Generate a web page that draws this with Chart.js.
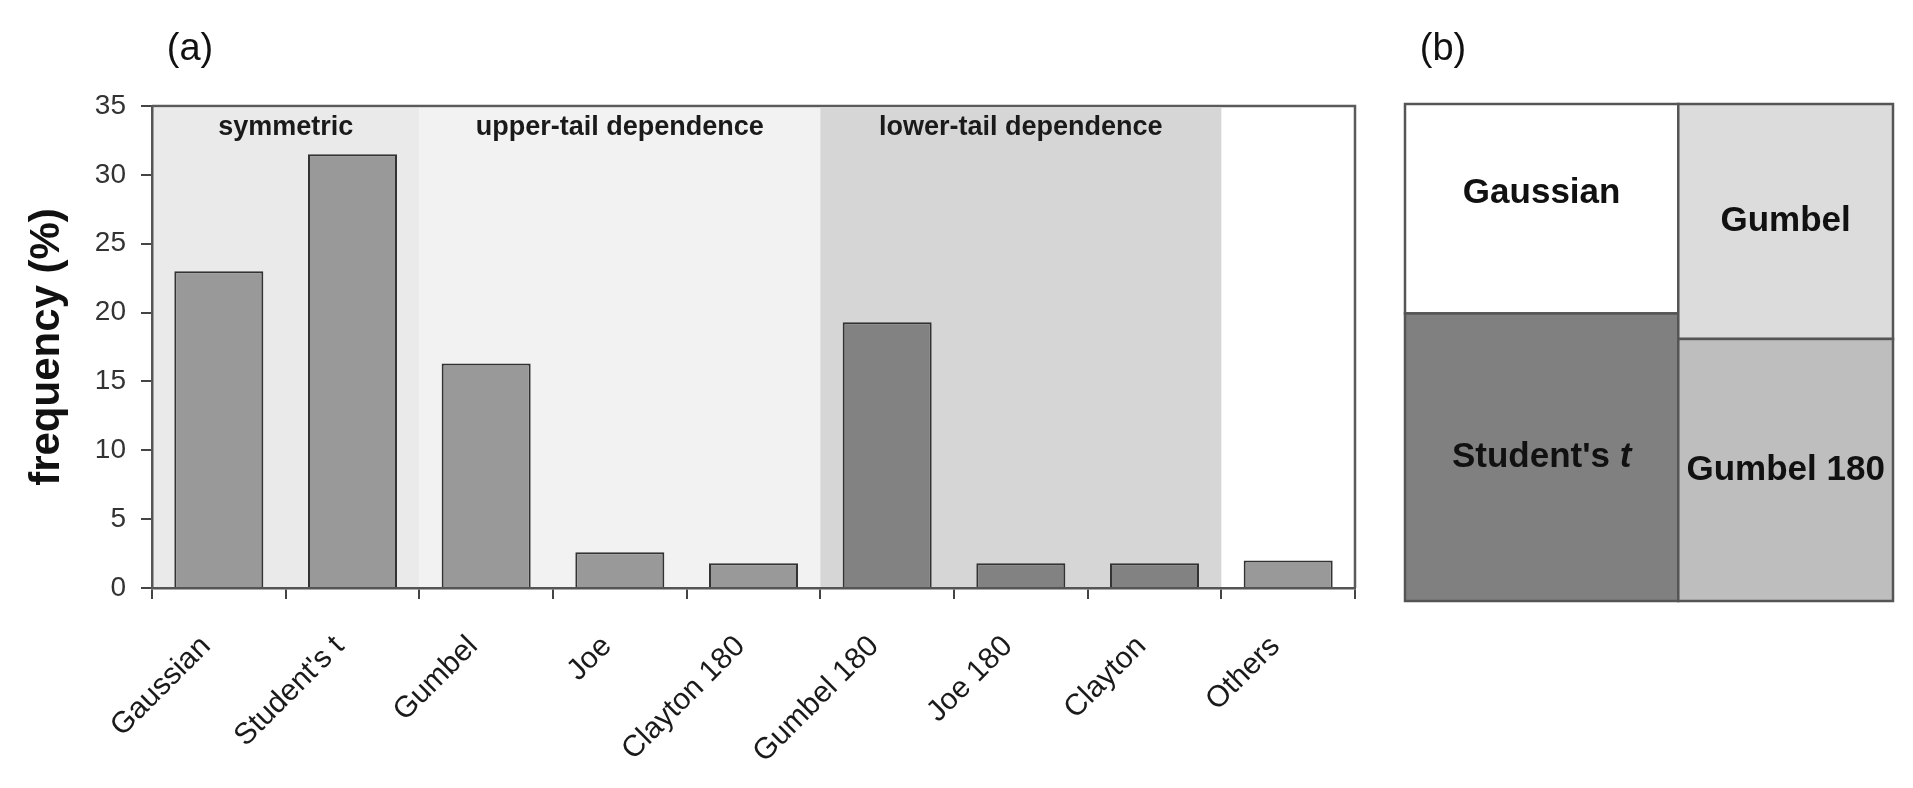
<!DOCTYPE html>
<html>
<head>
<meta charset="utf-8">
<script src="https://cdn.jsdelivr.net/npm/chart.js@4.4.0/dist/chart.umd.min.js"></script>
<style>
  body { margin: 0; background: #fff; }
  #wrapA { position: absolute; left: 0; top: 0; width: 1380px; height: 788px; }
  #wrapB { position: absolute; left: 1380px; top: 0; width: 533px; height: 788px; }
</style>
</head>
<body>
<div id="wrapA"><canvas id="copulaFreq"></canvas></div>
<div id="wrapB"><canvas id="copulaTree"></canvas></div>
<script>
// panel (a): frequency of each copula family
const families = ["Gaussian", "Student's t", "Gumbel", "Joe", "Clayton 180", "Gumbel 180", "Joe 180", "Clayton", "Others"]
const frequency = [23.0, 31.5, 16.3, 2.6, 1.8, 19.3, 1.8, 1.8, 2.0]
const barColors = ["#999999", "#999999", "#999999", "#999999", "#999999", "#828282", "#828282", "#828282", "#999999"]
const yTicks = [0, 5, 10, 15, 20, 25, 30, 35]

// shaded groups behind the bars (first / last category index)
const groupNames = ["symmetric", "upper-tail dependence", "lower-tail dependence"]
const groupFirst = [0, 2, 5]
const groupLast = [1, 4, 7]
const groupColors = ["#eaeaea", "#f2f2f2", "#d6d6d6"]

// panel (b): share of the box for each family, and its column
const treeNames = ["Gaussian", "Student's t", "Gumbel", "Gumbel 180"]
const treeShare = [23.6, 32.4, 20.8, 23.2]
const treeColumn = [0, 0, 1, 1]
const treeColors = ["#ffffff", "#808080", "#dcdcdc", "#bebebe"]

const FONT = '"Liberation Sans", Arial, sans-serif'
Chart.defaults.font.family = FONT
Chart.defaults.color = '#222'

/*===== PANEL A =====*/
const groupBands = {
  id: 'groupBands',
  beforeDraw(chart) {
    const {ctx, chartArea: a, scales: {x}} = chart
    const half = (x.getPixelForValue(1) - x.getPixelForValue(0)) / 2
    ctx.save()
    groupNames.forEach((name, i) => {
      const x0 = x.getPixelForValue(groupFirst[i]) - half
      const x1 = x.getPixelForValue(groupLast[i]) + half
      ctx.fillStyle = groupColors[i]
      ctx.fillRect(x0, a.top + 2, x1 - x0, a.bottom - a.top - 2)
      ctx.fillStyle = '#1a1a1a'
      ctx.font = 'bold 27px ' + FONT
      ctx.textAlign = 'center'
      ctx.textBaseline = 'middle'
      ctx.fillText(name, (x0 + x1) / 2, a.top + 22)
    })
    ctx.restore()
  },
  afterDatasetsDraw(chart) {
    const {ctx, chartArea: a} = chart
    ctx.save()
    ctx.strokeStyle = '#5a5a5a'
    ctx.lineWidth = 2.5
    ctx.beginPath()
    ctx.moveTo(a.left, a.top)
    ctx.lineTo(a.right, a.top)
    ctx.lineTo(a.right, a.bottom)
    ctx.stroke()
    ctx.fillStyle = '#111'
    ctx.font = '38px ' + FONT
    ctx.textAlign = 'center'
    ctx.textBaseline = 'middle'
    ctx.fillText('(a)', 190, 50)
    ctx.restore()
  }
}

new Chart('copulaFreq', {
  type: 'bar',
  data: {
    labels: families,
    datasets: [{
      data: frequency,
      backgroundColor: barColors,
      borderColor: '#333',
      borderWidth: 2,
      categoryPercentage: 1,
      barPercentage: 0.666
    }]
  },
  options: {
    responsive: true,
    maintainAspectRatio: false,
    animation: false,
    layout: {padding: {top: 106, right: 25, left: 0, bottom: 0}},
    plugins: {legend: {display: false}, tooltip: {enabled: false}},
    scales: {
      x: {
        grid: {display: true, drawOnChartArea: false, tickLength: 11, color: '#444', lineWidth: 2},
        border: {display: true, color: '#555', width: 2.5},
        ticks: {
          font: {size: 30}, color: '#1a1a1a', minRotation: 45, maxRotation: 45,
          autoSkip: false, padding: 30, labelOffset: -13
        },
        afterFit: (s) => { s.height = 200 }
      },
      y: {
        min: 0, max: 35,
        afterBuildTicks: (s) => { s.ticks = yTicks.map(v => ({value: v})) },
        grid: {display: true, drawOnChartArea: false, tickLength: 11, color: '#444', lineWidth: 2},
        border: {display: true, color: '#555', width: 2.5},
        ticks: {font: {size: 28}, color: '#333', padding: 15},
        title: {
          display: true, text: 'frequency (%)', color: '#111',
          font: {size: 42, weight: 'bold'}, padding: {top: 22, bottom: 0}
        },
        afterFit: (s) => { s.width = 152 }
      }
    }
  },
  plugins: [groupBands]
})

/*===== PANEL B =====*/
const treeCells = {
  id: 'treeCells',
  afterDatasetsDraw(chart) {
    const {ctx, scales: {x, y}} = chart
    const colTotal = [0, 0]
    treeShare.forEach((v, i) => { colTotal[treeColumn[i]] += v })
    const colStart = [0, colTotal[0]]
    const used = [0, 0]
    ctx.save()
    treeNames.forEach((name, i) => {
      const c = treeColumn[i]
      const h = treeShare[i] / colTotal[c] * 100
      const x0 = x.getPixelForValue(colStart[c]), x1 = x.getPixelForValue(colStart[c] + colTotal[c])
      const y0 = y.getPixelForValue(100 - used[c]), y1 = y.getPixelForValue(100 - used[c] - h)
      used[c] += h
      ctx.fillStyle = treeColors[i]
      ctx.fillRect(x0, y0, x1 - x0, y1 - y0)
      ctx.strokeStyle = '#555'
      ctx.lineWidth = 2.5
      ctx.strokeRect(x0, y0, x1 - x0, y1 - y0)
      // label sits a bit high in the white cell, like the original
      const cx = (x0 + x1) / 2
      const cy = (y0 + y1) / 2 - (i === 0 ? 15 : 0)
      ctx.fillStyle = '#111'
      ctx.textBaseline = 'middle'
      if (name.endsWith(' t')) {
        // italic t for Student's t
        const head = name.slice(0, -1)
        ctx.font = 'bold 35px ' + FONT
        const w1 = ctx.measureText(head).width
        ctx.font = 'italic bold 35px ' + FONT
        const w2 = ctx.measureText('t').width
        ctx.textAlign = 'left'
        ctx.font = 'bold 35px ' + FONT
        ctx.fillText(head, cx - (w1 + w2) / 2, cy)
        ctx.font = 'italic bold 35px ' + FONT
        ctx.fillText('t', cx - (w1 + w2) / 2 + w1, cy)
      } else {
        ctx.font = 'bold 35px ' + FONT
        ctx.textAlign = 'center'
        ctx.fillText(name, cx, cy)
      }
    })
    ctx.fillStyle = '#111'
    ctx.font = '38px ' + FONT
    ctx.textAlign = 'center'
    ctx.textBaseline = 'middle'
    ctx.fillText('(b)', 63, 50)
    ctx.restore()
  }
}

new Chart('copulaTree', {
  type: 'scatter',
  data: {datasets: [{data: [], pointRadius: 0}]},
  options: {
    responsive: true,
    maintainAspectRatio: false,
    animation: false,
    layout: {padding: {top: 104, right: 20, left: 25, bottom: 187}},
    plugins: {legend: {display: false}, tooltip: {enabled: false}},
    scales: {
      x: {type: 'linear', min: 0, max: 100, display: false},
      y: {type: 'linear', min: 0, max: 100, display: false}
    }
  },
  plugins: [treeCells]
})
</script>
</body>
</html>
